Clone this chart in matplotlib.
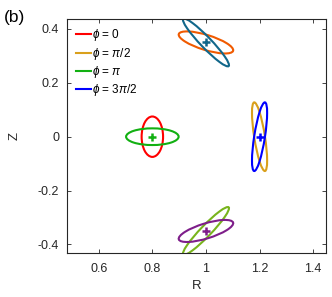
import matplotlib
matplotlib.use('Agg')
import matplotlib.pyplot as plt
from matplotlib.patches import Ellipse
import numpy as np

plt.rcParams['font.family'] = ['Liberation Sans', 'DejaVu Sans']
plt.rcParams['mathtext.fontset'] = 'custom'
plt.rcParams['mathtext.rm'] = 'Liberation Sans'
plt.rcParams['mathtext.it'] = 'Liberation Sans:italic'

# ellipse data: centre R, centre Z, semi-major, semi-minor, tilt (deg)
labels = [r'$\phi$ = 0', r'$\phi$ = $\pi$/2', r'$\phi$ = $\pi$', r'$\phi$ = 3$\pi$/2', None, None, None, None]
cen_r = [0.8, 1.2, 0.8, 1.2, 1.0, 1.0, 1.0, 1.0]
cen_z = [0.0, 0.0, 0.0, 0.0, 0.35, 0.35, -0.35, -0.35]
semi_a = [0.075, 0.129, 0.098, 0.129, 0.106, 0.122, 0.122, 0.106]
semi_b = [0.040, 0.020, 0.031, 0.020, 0.028, 0.020, 0.020, 0.028]
tilt = [90, 99, 0, 81, -17, -46, 46, 17]
colors = ['#ff0000', '#d9a01c', '#12b012', '#0000ff', '#f05a00', '#11678a', '#78b41c', '#7e1e8a']

# magnetic axis crosses
cross_r = [0.8, 1.2, 1.0, 1.0]
cross_z = [0.0, 0.0, 0.35, -0.35]
cross_col = ['#12b012', '#0000ff', '#11678a', '#7e1e8a']

fig = plt.figure(figsize=(3.32, 2.97), dpi=100)
ax = fig.add_axes([0.203, 0.148, 0.779, 0.788])

for i in range(len(cen_r)):
    e = Ellipse((cen_r[i], cen_z[i]), 2 * semi_a[i], 2 * semi_b[i], angle=tilt[i],
                fill=False, edgecolor=colors[i], linewidth=1.5)
    ax.add_patch(e)
    if labels[i] is not None:
        ax.plot([], [], color=colors[i], linewidth=1.5, label=labels[i])

for i in range(len(cross_r)):
    ax.plot(cross_r[i], cross_z[i], marker='+', color=cross_col[i], markersize=6,
            markeredgewidth=1.8, linestyle='none')

ax.set_xlim(0.483, 1.448)
ax.set_ylim(-0.432, 0.437)
ax.set_xticks([0.6, 0.8, 1.0, 1.2, 1.4])
ax.set_xticklabels(['0.6', '0.8', '1', '1.2', '1.4'])
ax.set_yticks([-0.4, -0.2, 0, 0.2, 0.4])
ax.set_yticklabels(['-0.4', '-0.2', '0', '0.2', '0.4'])
ax.tick_params(direction='in', length=3, width=0.6, top=True, right=True,
               labelsize=9, colors='#262626')
ax.tick_params(axis='x', pad=7)
ax.tick_params(axis='y', pad=6)
for s in ax.spines.values():
    s.set_linewidth(0.8)
    s.set_color('#262626')

ax.set_xlabel('R', fontsize=9.5, color='#262626', labelpad=4)
ax.set_ylabel('Z', fontsize=9.5, color='#262626', labelpad=12)

ax.legend(loc='upper left', frameon=False, fontsize=8.5, handlelength=1.3,
          handletextpad=0.1, labelspacing=0.2, borderaxespad=0.3,
          bbox_to_anchor=(0.0, 1.0))

fig.text(0.012, 0.965, '(b)', fontsize=12.5, color='black', va='top', ha='left')

fig.savefig('out.png', dpi=100)
